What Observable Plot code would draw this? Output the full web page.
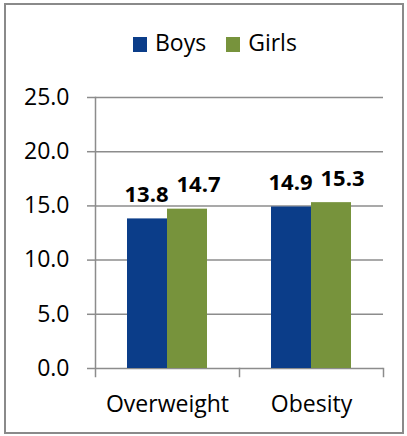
<!DOCTYPE html>
<html>
<head>
<meta charset="utf-8">
<script src="https://cdn.jsdelivr.net/npm/d3@7"></script>
<script src="https://cdn.jsdelivr.net/npm/@observablehq/plot@0.6"></script>
<style>
  body { margin: 0; background: #fff; font-family: "Open Sans", sans-serif; }
  #wrap { position: relative; width: 407px; height: 436px; overflow: hidden; background: #fff; }
  #border { position: absolute; left: 4px; top: 3px; width: 400px; height: 431px; box-sizing: border-box;
            border: 2px solid #8a8a8a; z-index: 2; pointer-events: none; }
  #legend { position: absolute; left: 133px; top: 27px; display: flex; align-items: center;
            font-size: 23px; line-height: 31px; color: #000; z-index: 1; }
  .item { display: flex; align-items: center; }
  .sw { width: 14px; height: 15px; margin-right: 8px; position: relative; top: 2px; }
  .item + .item { margin-left: 20px; }
  #chart { position: absolute; left: 0; top: 70px; }
</style>
</head>
<body>
<div id="wrap">
  <div id="legend"></div>
  <div id="chart"></div>
  <div id="border"></div>
</div>
<script>
const categories = ["Overweight", "Obesity"];
const series = ["Boys", "Girls"];
const boys = [13.8, 14.9];
const girls = [14.7, 15.3];
const yTicks = [0, 5, 10, 15, 20, 25];
const colors = ["#0b3d89", "#77933c"];

const data = categories.flatMap((c, i) => [
  {cat: c, sex: series[0], v: boys[i]},
  {cat: c, sex: series[1], v: girls[i]}
]);

// legend
const legend = document.getElementById("legend");
series.forEach((s, i) => {
  const it = document.createElement("div");
  it.className = "item";
  const sw = document.createElement("span");
  sw.className = "sw";
  sw.style.background = colors[i];
  const t = document.createElement("span");
  t.textContent = s;
  it.appendChild(sw); it.appendChild(t);
  legend.appendChild(it);
});

const W = 407, H = 360, mT = 27, mB = 62, mL = 94, mR = 24;
const plotH = H - mT - mB;
const gridColor = "#8c8c8c";
const fmt = d3.format(".1f");

const chart = Plot.plot({
  width: W, height: H,
  marginTop: mT, marginBottom: mB, marginLeft: mL, marginRight: mR,
  style: {fontFamily: "Open Sans", fontSize: "23px", background: "transparent", color: "#000", overflow: "visible"},
  fx: {domain: categories, padding: 0, label: null},
  x: {domain: series, paddingInner: 0, paddingOuter: 0.76, axis: null},
  y: {domain: [0, 25], label: null},
  color: {domain: series, range: colors},
  marks: [
    Plot.gridY(yTicks, {stroke: gridColor, strokeOpacity: 1, strokeWidth: 1.5}),
    Plot.barY(data, {fx: "cat", x: "sex", y: "v", fill: "sex"}),
    Plot.axisY(yTicks, {tickSize: 8, tickPadding: 18, tickFormat: fmt, label: null,
                        stroke: gridColor, strokeWidth: 1.5, fontSize: 23}),
    Plot.axisFx({anchor: "bottom", tickSize: 0, tickPadding: 27, label: null, fontSize: 23}),
    Plot.frame({anchor: "left", facet: "super", insetBottom: -8, stroke: gridColor, strokeWidth: 1.5}),
    Plot.frame({anchor: "right", insetTop: plotH, insetBottom: -8, stroke: gridColor, strokeWidth: 1.5}),
    Plot.text(data, {filter: d => d.sex === series[0], fx: "cat", x: "sex", y: "v",
                     text: d => fmt(d.v), fontWeight: "bold", fontSize: 22,
                     lineAnchor: "bottom", dy: -17, dx: -1, fill: "#000"}),
    Plot.text(data, {filter: d => d.sex === series[1], fx: "cat", x: "sex", y: "v",
                     text: d => fmt(d.v), fontWeight: "bold", fontSize: 22,
                     lineAnchor: "bottom", dy: -17, dx: 11, fill: "#000"})
  ]
});
document.getElementById("chart").appendChild(chart);
</script>
</body>
</html>
